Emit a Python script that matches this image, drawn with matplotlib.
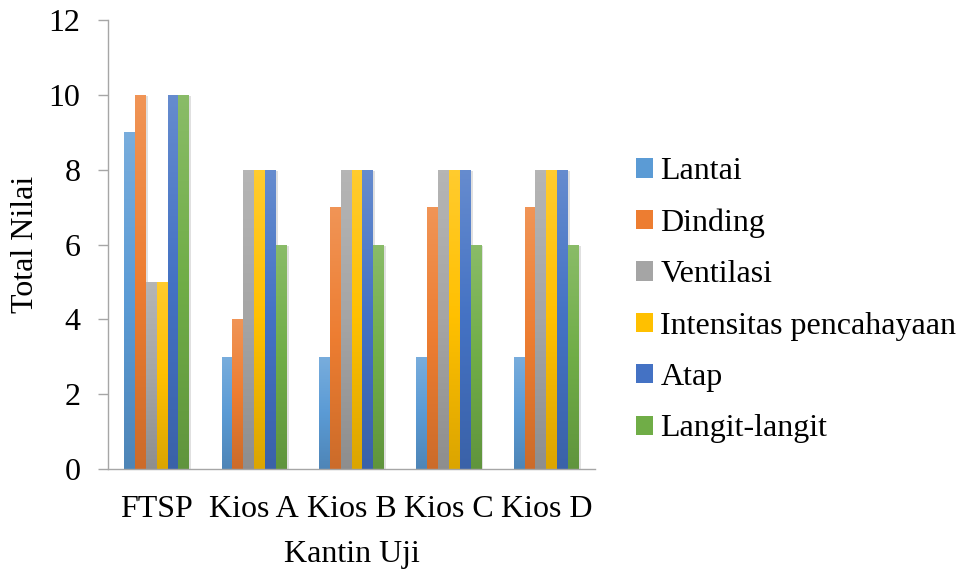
import numpy as np
import matplotlib
matplotlib.use("Agg")
import matplotlib.pyplot as plt
from matplotlib import patheffects as pe
from matplotlib.colors import to_rgb
from matplotlib.patches import Patch

plt.rcParams['font.family'] = ['Liberation Serif', 'DejaVu Serif']

categories = ["FTSP", "Kios A", "Kios B", "Kios C", "Kios D"]
series_names = ["Lantai", "Dinding", "Ventilasi", "Intensitas pencahayaan", "Atap", "Langit-langit"]
lantai = [9, 3, 3, 3, 3]
dinding = [10, 4, 7, 7, 7]
ventilasi = [5, 8, 8, 8, 8]
intensitas = [5, 8, 8, 8, 8]
atap = [10, 8, 8, 8, 8]
langit = [10, 6, 6, 6, 6]
series_values = [lantai, dinding, ventilasi, intensitas, atap, langit]
colors = ["#5B9BD5", "#ED7D31", "#A5A5A5", "#FFC000", "#4472C4", "#70AD47"]
y_ticks = [0, 2, 4, 6, 8, 10, 12]

FS = 23

fig = plt.figure(figsize=(9.62, 5.71), dpi=100)
ax = fig.add_axes([0.1123, 0.1786, 0.5062, 0.7864])

n = len(series_names)
group = 1 / 1.5
w = group / n
x = np.arange(len(categories))


def shade(c, f):
    r = np.array(to_rgb(c))
    if f >= 0:
        return r + (1 - r) * f
    return r * (1 + f)


grad_rows = 64
for i, (vals, col) in enumerate(zip(series_values, colors)):
    pos = x - group / 2 + w * (i + 0.5)
    bars = ax.bar(pos, vals, width=w, color=col, zorder=2,
                  path_effects=[pe.SimplePatchShadow(offset=(1.5, -1.0), shadow_rgbFace=(0.2, 0.2, 0.2), alpha=0.15),
                                pe.Normal()])
    # vertical gradient: lighter at the top, deeper at the base
    top = shade(col, 0.18)
    mid = shade(col, 0.0)
    bot = shade(col, -0.14)
    t = np.linspace(0, 1, grad_rows)[:, None]
    cols = np.where(t < 0.5, top + (mid - top) * (t / 0.5), mid + (bot - mid) * ((t - 0.5) / 0.5))
    img = cols[:, None, :].repeat(2, axis=1)
    for b in bars:
        bx, by = b.get_x(), b.get_y()
        im = ax.imshow(img, extent=[bx, bx + b.get_width(), by, by + b.get_height()],
                       aspect='auto', zorder=2.1, interpolation='bilinear')
        im.set_clip_path(b)

ax.set_xlim(-0.5, len(categories) - 0.5)
ax.set_ylim(0, 12)
ax.set_yticks(y_ticks)
ax.set_xticks(x)
ax.set_xticklabels(categories)

for s in ["top", "right"]:
    ax.spines[s].set_visible(False)
for s in ["left", "bottom"]:
    ax.spines[s].set_color("#A6A6A6")
    ax.spines[s].set_linewidth(1.0)
ax.tick_params(axis='y', direction='out', length=7, width=1.0, color="#A6A6A6",
               labelsize=FS, pad=13)
ax.tick_params(axis='x', length=0, labelsize=FS, pad=19)

ax.set_ylabel("Total Nilai", fontsize=FS, labelpad=6)
ax.set_xlabel("Kantin Uji", fontsize=FS, labelpad=11)

handles = [Patch(facecolor=c, edgecolor='none') for c in colors]
fig.legend(handles, series_names, loc='center left', bbox_to_anchor=(0.661, 0.474),
           frameon=False, fontsize=FS, handlelength=0.55, handleheight=0.55,
           handletextpad=0.22, labelspacing=0.7, borderaxespad=0, borderpad=0)

fig.savefig("out.png", dpi=100)
